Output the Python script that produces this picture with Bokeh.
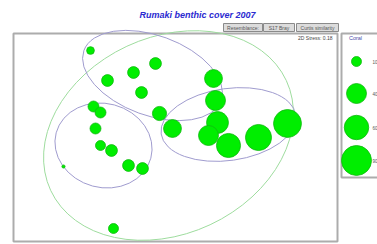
import numpy as np
from bokeh.plotting import figure
from bokeh.models import Range1d
from bokeh.core.properties import value
from bokeh.embed import file_html
from bokeh.resources import INLINE

# ---- data (nMDS coordinates and coral cover) ----
mds1 = [-0.85, -0.68, -0.42, -0.20, -0.34, -0.82, -0.75, -0.80, -0.75, -0.64,
        -1.12, -0.47, -0.33, -0.62, -0.16, -0.03, 0.38, 0.40, 0.42, 0.33,
        0.53, 0.83, 1.12]
mds2 = [0.85, 0.55, 0.63, 0.72, 0.43, 0.29, 0.23, 0.07, -0.10, -0.15,
        -0.31, -0.30, -0.33, -0.93, 0.22, 0.07, 0.57, 0.35, 0.13, 0.00,
        -0.10, -0.02, 0.12]
coral = [6, 14, 14, 14, 14, 12, 12, 12, 10, 14,
         1, 14, 14, 10, 20, 32, 32, 40, 48, 40,
         58, 68, 78]

legend_values = [10, 40, 60, 90]
legend_labels = ["10", "40", "60", "90"]

# cluster overlays (similarity ellipses)
cl_x = [-0.23, -0.72, 0.53]
cl_y = [0.60, -0.10, 0.11]
cl_w = [1.46, 0.98, 1.36]
cl_h = [0.80, 0.84, 0.72]
cl_angle = [-20, -15, 8]
outer_x = [-0.07]
outer_y = [0.0]
outer_w = [2.60]
outer_h = [1.97]
outer_angle = [25]

title = "Rumaki benthic cover 2007"
stress = "2D Stress: 0.18"
legend_title = "Coral"
resemblance = ["Resemblance:", "S17 Bray", "Curtis similarity"]

# ---- figure ----
W, H = 377, 244
PX = 100.0
X0 = -175 / PX
Y1 = 135 / PX

def gx(px):
    return X0 + px / PX

def gy(py):
    return Y1 - py / PX

p = figure(width=W, height=H, x_range=Range1d(X0, X0 + W / PX),
           y_range=Range1d(Y1 - H / PX, Y1),
           x_axis_location=None, y_axis_location=None,
           toolbar_location=None, output_backend="svg",
           min_border=0, outline_line_color=None)
p.xgrid.visible = False
p.ygrid.visible = False
p.background_fill_color = "white"
p.border_fill_color = "white"

FONT = value("Liberation Sans")

# plot frame and legend frame
p.quad(left=[gx(13)], right=[gx(337)], top=[gy(33)], bottom=[gy(241)],
       fill_color=None, line_color="#acacac", line_width=2)
p.quad(left=[gx(341)], right=[gx(395)], top=[gy(33)], bottom=[gy(177)],
       fill_color=None, line_color="#acacac", line_width=2)

# resemblance bar
bx = [(223, 262), (263, 294), (296, 338)]
for (l, r), t in zip(bx, resemblance):
    p.quad(left=[gx(l)], right=[gx(r)], top=[gy(23)], bottom=[gy(31)],
           fill_color="#dcdcdc", line_color="#8a8a8a", line_width=1)
    p.text(x=[gx((l + r) / 2)], y=[gy(27)], text=[t], text_align="center",
           text_baseline="middle", text_font=FONT, text_font_size=value("5px"),
           text_color="#555555")

# title
p.text(x=[gx(197)], y=[gy(14)], text=[title], text_align="center",
       text_baseline="middle", text_font=FONT, text_font_style="bold italic",
       text_font_size=value("9px"), text_color="#2b2bd0")

# stress
p.text(x=[gx(332)], y=[gy(37)], text=[stress], text_align="right",
       text_baseline="middle", text_font=FONT, text_font_size=value("5px"),
       text_color="#444444")

# ellipses
p.ellipse(x=outer_x, y=outer_y, width=outer_w, height=outer_h,
          angle=list(np.radians(outer_angle)), fill_color=None,
          line_color="#9edc9e", line_width=1)
p.ellipse(x=cl_x, y=cl_y, width=cl_w, height=cl_h,
          angle=list(np.radians(cl_angle)), fill_color=None,
          line_color="#a09ccf", line_width=1)

# bubbles
K = 3.16
p.scatter(x=mds1, y=mds2, size=list(K * np.sqrt(coral)),
          fill_color="#00ee00", line_color="#10b810", line_width=0.8)

# legend
p.text(x=[gx(355)], y=[gy(37)], text=[legend_title], text_align="center",
       text_baseline="middle", text_font=FONT, text_font_size=value("5.5px"),
       text_color="#4a4aa8")
ly = [61, 93, 127, 160]
p.scatter(x=[gx(356)] * 4, y=[gy(v) for v in ly],
          size=list(K * np.sqrt(legend_values)),
          fill_color="#00ee00", line_color="#10b810", line_width=0.8)
p.text(x=[gx(372)] * 4, y=[gy(v) for v in ly], text=legend_labels,
       text_align="left", text_baseline="middle", text_font=FONT,
       text_font_size=value("4.5px"), text_color="#555555")

open("out.html", "w").write(file_html(p, INLINE))
